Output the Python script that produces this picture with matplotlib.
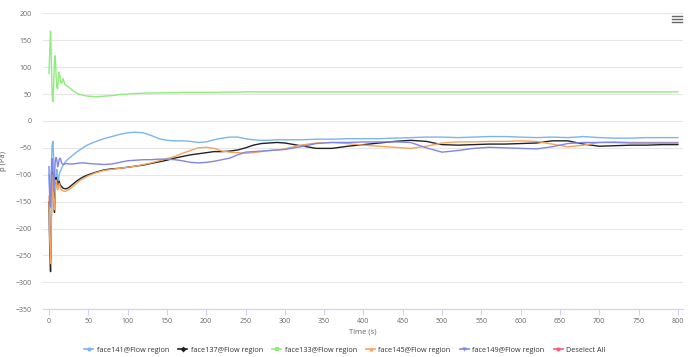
import matplotlib
matplotlib.use("Agg")
import matplotlib.pyplot as plt
from matplotlib.lines import Line2D

plt.rcParams['font.family'] = ['Open Sans', 'DejaVu Sans']

time_s = [0, 1, 2, 3, 4, 5, 6, 7, 8, 9, 10, 11, 12, 13, 14, 15, 16, 18, 20, 22, 25, 30, 35, 40, 45,
          50, 60, 70, 80, 90, 100, 110, 120, 130, 140, 150, 160, 170, 180, 190, 200, 210, 220, 230,
          240, 250, 260, 270, 280, 290, 300, 320, 340, 360, 380, 400, 420, 440, 460, 480, 500, 520,
          540, 560, 580, 600, 620, 640, 660, 680, 700, 720, 740, 760, 780, 800]

face141 = [-100, -130, -150, -90, -45, -38, -70, -110, -120, -100, -90, -105, -115, -100, -94, -92,
           -88, -82, -78, -74, -70, -64, -58, -53, -48, -44, -38, -33, -29, -25, -22, -21, -22, -27,
           -33, -36, -37, -37, -38, -40, -39, -35, -32, -30, -30, -33, -35, -36, -36, -35, -35, -35,
           -34, -34, -33, -33, -33, -32, -31, -30, -30, -31, -30, -29, -29, -30, -31, -30, -31, -29,
           -31, -32, -32, -31, -31, -31]

face137 = [-150, -240, -280, -180, -95, -110, -140, -170, -130, -105, -110, -120, -118, -112, -118,
           -120, -122, -125, -126, -126, -124, -118, -112, -107, -103, -100, -95, -91, -89, -88, -86,
           -84, -82, -79, -76, -73, -69, -66, -63, -61, -59, -57, -57, -56, -54, -50, -45, -42, -41,
           -40, -41, -46, -51, -51, -47, -44, -41, -38, -36, -38, -44, -45, -44, -43, -43, -42, -41,
           -37, -37, -43, -47, -46, -45, -45, -44, -44]

face133 = [88, 130, 167, 110, 50, 36, 70, 115, 121, 85, 62, 60, 78, 91, 82, 72, 70, 79, 68, 66, 63,
           57, 52, 49, 47, 46, 45, 46, 47, 49, 50, 51, 51.5, 52, 52, 52.5, 52.5, 53, 53, 53, 53, 53,
           53.5, 53.5, 53.5, 54, 54, 54, 54, 54, 54, 54, 54, 54, 54, 54, 54, 54, 54, 54, 54, 54, 54,
           54, 54, 54, 54, 54, 54, 54, 54, 54, 54, 54, 54, 54]

face145 = [-140, -220, -265, -200, -100, -120, -150, -165, -135, -110, -115, -128, -122, -116, -122,
           -126, -128, -130, -131, -130, -128, -122, -116, -110, -106, -102, -96, -92, -90, -88, -86,
           -84, -81, -78, -74, -70, -66, -60, -55, -50, -49, -51, -56, -58, -59, -60, -59, -57, -55,
           -54, -52, -45, -41, -40, -42, -45, -47, -49, -51, -47, -41, -39, -39, -38, -38, -37, -38,
           -43, -48, -45, -40, -39, -40, -40, -40, -40]

face149 = [-85, -150, -160, -100, -70, -90, -130, -100, -75, -68, -72, -85, -80, -72, -69, -72, -78,
           -81, -80, -79, -80, -80, -79, -78, -78, -79, -80, -81, -80, -77, -74, -73, -72, -72, -71,
           -71, -72, -74, -77, -78, -77, -75, -72, -69, -63, -58, -57, -56, -55, -54, -53, -48, -42,
           -40, -40, -39, -39, -39, -40, -50, -58, -55, -51, -49, -50, -51, -52, -48, -42, -40, -40,
           -40, -41, -41, -41, -41]

series = [
    ("face141@Flow region", face141, "#7cb5ec", "o"),
    ("face137@Flow region", face137, "#222226", "D"),
    ("face133@Flow region", face133, "#90ed7d", "s"),
    ("face145@Flow region", face145, "#f7a35c", "^"),
    ("face149@Flow region", face149, "#8085e9", "v"),
]

x_ticks = list(range(0, 801, 50))
y_ticks = list(range(-350, 201, 50))

W, H = 690, 357
fig = plt.figure(figsize=(W / 100, H / 100), dpi=100)
ax = fig.add_axes([43 / W, 1 - 309.3 / H, (683 - 43) / W, (309.3 - 13.3) / H])

for name, vals, col, mk in series:
    ax.plot(time_s, vals, color=col, lw=1.0, solid_joinstyle='round')

ax.set_xlim(-7.6, 806.5)
ax.set_ylim(-350, 200)
ax.set_xticks(x_ticks)
ax.set_yticks(y_ticks)
ax.grid(axis='y', color='#e6e6e6', lw=0.8)
ax.set_axisbelow(True)
for s in ['top', 'right', 'left']:
    ax.spines[s].set_visible(False)
ax.spines['bottom'].set_color('#ccd6eb')
ax.spines['bottom'].set_linewidth(0.8)
ax.tick_params(axis='x', colors='#ccd6eb', length=4, width=0.8, labelsize=5, labelcolor='#666666', pad=2)
ax.tick_params(axis='y', length=0, labelsize=5, labelcolor='#666666', pad=8)
ax.set_xlabel("Time (s)", fontsize=5.5, color='#666666', labelpad=3)
ax.set_ylabel("p (Pa)", fontsize=5.5, color='#555555', labelpad=6)

handles = []
labels = []
for name, vals, col, mk in series:
    handles.append(Line2D([0], [0], color=col, lw=1.2, marker=mk, markersize=3, markeredgewidth=0))
    labels.append(name)
handles.append(Line2D([0], [0], color="#f15c80", lw=1.2, marker="o", markersize=3, markeredgewidth=0))
labels.append("Deselect All")

leg = fig.legend(handles, labels, loc='center', bbox_to_anchor=(0.5, 1 - 350 / H), ncol=6,
                 frameon=False, fontsize=5.2, handlelength=1.2, handletextpad=0.5,
                 columnspacing=1.3, labelcolor='#333333')

# menu icon
for yy in (16, 19, 22.3):
    fig.add_artist(Line2D([672 / W, 682 / W], [1 - yy / H, 1 - yy / H], color='#666666', lw=1.0,
                          transform=fig.transFigure))

fig.savefig("out.png", dpi=100, facecolor='white')
